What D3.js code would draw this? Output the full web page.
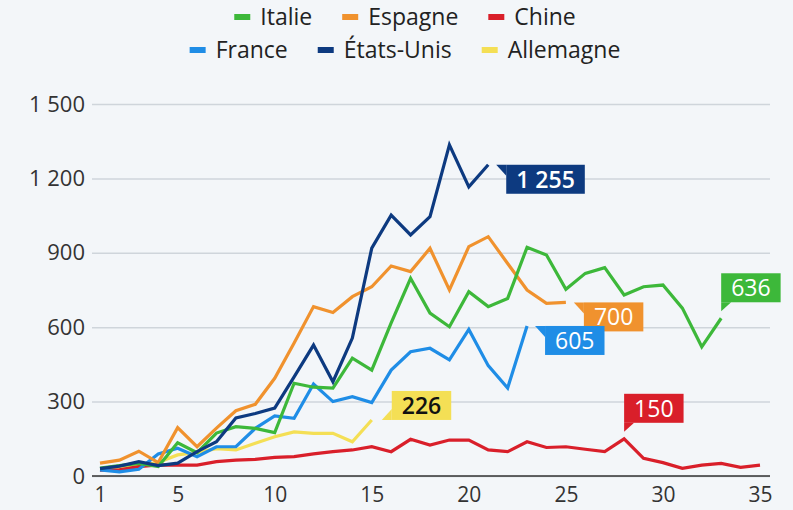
<!DOCTYPE html>
<html>
<head>
<meta charset="utf-8">
<script src="https://cdn.jsdelivr.net/npm/d3@7"></script>
<style>
  body { margin: 0; background: #f3f6f9; }
  svg { display: block; font-family: "Open Sans", sans-serif; }
</style>
</head>
<body>
<svg id="chart" width="793" height="510"></svg>
<script>
// data (daily deaths, day 1..n)
var seriesNames = ["Italie", "Espagne", "Chine", "France", "États-Unis", "Allemagne"]
var italie = [32,42,51,38,134,94,173,199,192,175,374,358,354,475,427,617,797,657,602,743,683,716,922,891,753,817,840,730,763,770,677,521,636]
var espagne = [52,64,100,54,195,118,193,263,289,394,536,683,659,723,763,847,824,918,750,925,965,857,750,696,700]
var chine = [24,25,38,45,44,44,58,64,67,75,78,89,98,105,118,98,148,125,145,145,105,98,138,115,118,108,98,150,71,54,31,44,51,35,44]
var france = [25,17,27,89,112,78,118,118,192,242,233,371,300,320,296,427,501,515,468,591,445,355,605]
var etatsUnis = [30,40,58,42,52,98,138,234,252,274,400,528,380,556,919,1052,972,1046,1335,1166,1255]
var allemagne = [25,30,40,55,85,95,110,105,132,158,178,172,172,138,226]
var xTicks = [1, 5, 10, 15, 20, 25, 30, 35]
var yTicks = [0, 300, 600, 900, 1200, 1500]
// which point of each series carries a value flag
var calloutSeries = ["États-Unis", "Espagne", "France", "Allemagne", "Italie", "Chine"]
var calloutDays = [21, 25, 23, 15, 33, 28]

var seriesValues = {
  "Italie": italie, "Espagne": espagne, "Chine": chine,
  "France": france, "États-Unis": etatsUnis, "Allemagne": allemagne
}
var colors = {
  "Italie": "#3db83a", "Espagne": "#f0922e", "Chine": "#d91f2a",
  "France": "#1f8de6", "États-Unis": "#0d3a80", "Allemagne": "#f4df55"
}

var fr = d3.formatLocale({decimal: ",", thousands: " ", grouping: [3], currency: ["", " €"]})
var fmt = fr.format(",d")

var svg = d3.select("#chart")

var x = d3.scaleLinear().domain([1, 35]).range([100, 760])
var y = d3.scaleLinear().domain([0, 1500]).range([476, 104])

// grid + y labels
var yAxis = svg.append("g")
  .attr("transform", "translate(92,0)")
  .call(d3.axisLeft(y).tickValues(yTicks).tickSize(-678).tickPadding(7).tickFormat(fmt))
yAxis.select(".domain").remove()
yAxis.selectAll(".tick line").attr("stroke", "#cfd5db").attr("stroke-width", 1.5)
yAxis.selectAll(".tick text")
  .attr("fill", "#333").style("font-size", "22px").style("font-family", "Open Sans")

// x axis
var xAxis = svg.append("g")
  .attr("transform", "translate(0,476)")
  .call(d3.axisBottom(x).tickValues(xTicks).tickSize(0).tickPadding(11))
xAxis.select(".domain").remove()
xAxis.selectAll(".tick text")
  .attr("fill", "#333").style("font-size", "21px").style("font-family", "Open Sans")
svg.append("line")
  .attr("x1", 92).attr("x2", 770).attr("y1", y(0)).attr("y2", y(0))
  .attr("stroke", "#333").attr("stroke-width", 1.5)

// lines
var line = d3.line()
  .x(function(d, i) { return x(i + 1) })
  .y(function(d) { return y(d) })

var drawOrder = ["Allemagne", "Chine", "France", "Espagne", "Italie", "États-Unis"]
drawOrder.forEach(function(name) {
  svg.append("path")
    .datum(seriesValues[name])
    .attr("d", line)
    .attr("fill", "none")
    .attr("stroke", colors[name])
    .attr("stroke-width", 3.2)
    .attr("stroke-linejoin", "miter")
})

// value flags
var flagKind = {
  "États-Unis": "side-top", "Espagne": "side-top", "France": "side-top",
  "Allemagne": "side-bottom", "Italie": "up", "Chine": "up"
}
calloutSeries.forEach(function(name, k) {
  var day = calloutDays[k]
  var val = seriesValues[name][day - 1]
  var px = x(day), py = y(val)
  var kind = flagKind[name]
  var dark = name == "Allemagne"
  var bold = name == "États-Unis" || name == "Allemagne"
  var g = svg.append("g")
  var t = g.append("text")
    .text(fmt(val))
    .attr("fill", dark ? "#111" : "#fff")
    .style("font-size", "23px")
    .style("font-weight", bold ? 600 : 400)
    .attr("text-anchor", "middle")
    .attr("dy", "0.36em")
  var w = t.node().getComputedTextLength() + 20
  var h = 29
  var bx, by, tab
  if (kind == "side-top") {
    bx = px + 18; by = py
    tab = [[px + 8, py], [bx, py], [bx, py + 11]]
  } else if (kind == "side-bottom") {
    bx = px + 20; by = py - h
    tab = [[px + 10, py], [bx, py], [bx, py - 11]]
  } else {
    bx = px; by = py - 16 - h
    tab = [[px, py - 7], [px, py - 16], [px + 10, py - 16]]
  }
  g.insert("rect", "text")
    .attr("x", bx).attr("y", by).attr("width", w).attr("height", h)
    .attr("fill", colors[name])
  g.insert("path", "text")
    .attr("d", "M" + tab.join("L") + "Z")
    .attr("fill", colors[name])
  t.attr("x", bx + w / 2).attr("y", by + h / 2)
})

// legend (two centred rows)
var legendRows = [["Italie", "Espagne", "Chine"], ["France", "États-Unis", "Allemagne"]]
var legendY = [17, 50]
legendRows.forEach(function(row, r) {
  var g = svg.append("g")
  var cursor = 0
  row.forEach(function(name) {
    g.append("rect")
      .attr("x", cursor).attr("y", legendY[r] - 3).attr("width", 16).attr("height", 6)
      .attr("fill", colors[name])
    var t = g.append("text")
      .attr("x", cursor + 26).attr("y", legendY[r]).attr("dy", "0.35em")
      .attr("fill", "#222")
      .style("font-size", "23px")
      .text(name)
    cursor += 26 + t.node().getComputedTextLength() + 30
  })
  var total = cursor - 30
  g.attr("transform", "translate(" + (405 - total / 2) + ",0)")
})
</script>
</body>
</html>
